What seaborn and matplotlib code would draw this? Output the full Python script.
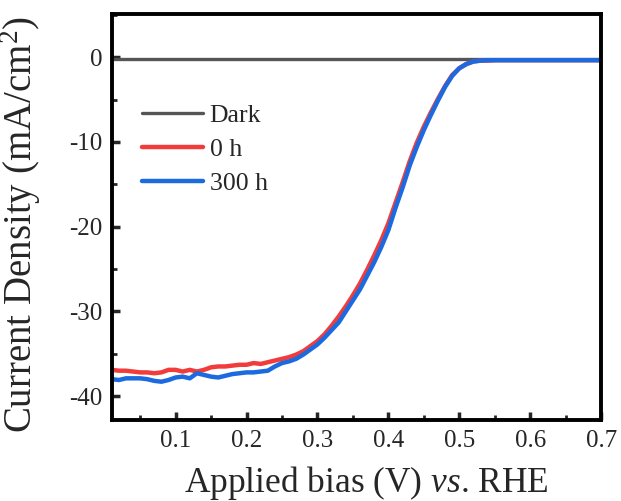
import matplotlib
matplotlib.use("Agg")
import matplotlib.pyplot as plt
import seaborn as sns
from matplotlib.ticker import MultipleLocator

# applied bias (V vs. RHE)
voltage = [0.01, 0.02, 0.03, 0.04, 0.05, 0.06, 0.07, 0.08, 0.09, 0.10,
           0.11, 0.12, 0.13, 0.14, 0.15, 0.16, 0.17, 0.18, 0.19, 0.20,
           0.21, 0.22, 0.23, 0.24, 0.25, 0.26, 0.27, 0.28, 0.29, 0.30,
           0.31, 0.32, 0.33, 0.34, 0.35, 0.36, 0.37, 0.38, 0.39, 0.40,
           0.41, 0.42, 0.43, 0.44, 0.45, 0.46, 0.47, 0.48, 0.49, 0.50,
           0.51, 0.52, 0.53, 0.54, 0.55, 0.56, 0.57, 0.58, 0.59, 0.60,
           0.61, 0.62, 0.63, 0.64, 0.65, 0.66, 0.67, 0.68, 0.69, 0.70]

j_0h = [-36.9, -37.0, -37.0, -37.1, -37.2, -37.2, -37.3, -37.2, -36.9, -36.9,
        -37.1, -36.9, -37.1, -36.9, -36.6, -36.5, -36.5, -36.4, -36.3, -36.3,
        -36.1, -36.2, -36.0, -35.8, -35.6, -35.4, -35.1, -34.7, -34.1, -33.5,
        -32.7, -31.7, -30.6, -29.4, -28.1, -26.7, -25.1, -23.4, -21.6, -19.6,
        -17.2, -14.8, -12.3, -10.1, -8.2, -6.5, -4.9, -3.4, -2.1, -1.3,
        -0.8, -0.5, -0.4, -0.4, -0.35, -0.35, -0.35, -0.35, -0.35, -0.35,
        -0.35, -0.35, -0.35, -0.35, -0.35, -0.35, -0.35, -0.35, -0.35, -0.35]

j_300h = [-38.0, -38.1, -37.9, -37.9, -37.9, -38.0, -38.2, -38.3, -38.1, -37.8,
          -37.7, -37.9, -37.3, -37.5, -37.7, -37.8, -37.6, -37.4, -37.3, -37.2,
          -37.2, -37.1, -37.0, -36.5, -36.1, -35.9, -35.6, -35.1, -34.5, -33.9,
          -33.1, -32.2, -31.3, -30.0, -28.7, -27.4, -25.8, -24.2, -22.4, -20.4,
          -17.8, -15.4, -12.8, -10.6, -8.6, -6.8, -5.1, -3.5, -2.2, -1.3,
          -0.8, -0.5, -0.4, -0.35, -0.35, -0.35, -0.35, -0.35, -0.35, -0.35,
          -0.35, -0.35, -0.35, -0.35, -0.35, -0.35, -0.35, -0.35, -0.35, -0.35]

dark_v = [0.01, 0.70]
dark_j = [-0.2, -0.2]

sns.set_style("ticks")
plt.rcParams["font.family"] = ["Liberation Serif", "DejaVu Serif"]
plt.rcParams["mathtext.fontset"] = "custom"
plt.rcParams["mathtext.rm"] = "Liberation Serif"
plt.rcParams["mathtext.it"] = "Liberation Serif:italic"
plt.rcParams["axes.unicode_minus"] = False

fig = plt.figure(figsize=(6.21, 5.01), dpi=100)
ax = fig.add_axes([0.180, 0.162, 0.788, 0.810])

sns.lineplot(x=dark_v, y=dark_j, ax=ax, color="#555555", linewidth=2.4, label="Dark")
sns.lineplot(x=voltage, y=j_0h, ax=ax, color="#f23c3c", linewidth=3.2, label="0 h")
sns.lineplot(x=voltage, y=j_300h, ax=ax, color="#1c6ae0", linewidth=3.2, label="300 h")

ax.set_xlim(0.01, 0.70)
ax.set_ylim(-42.8, 5.1)
ax.xaxis.set_major_locator(MultipleLocator(0.1))
ax.xaxis.set_minor_locator(MultipleLocator(0.05))
ax.yaxis.set_major_locator(MultipleLocator(10))
ax.yaxis.set_minor_locator(MultipleLocator(5))
ax.set_xticks([0.1, 0.2, 0.3, 0.4, 0.5, 0.6, 0.7])
ax.set_xticklabels(["0.1", "0.2", "0.3", "0.4", "0.5", "0.6", "0.7"])

ax.tick_params(which="major", direction="in", length=6, width=2.5, labelsize=18, pad=7)
ax.tick_params(which="minor", direction="in", length=3.5, width=2)
for s in ax.spines.values():
    s.set_linewidth(2.8)
    s.set_color("black")

ax.set_xlabel(r"Applied bias (V) $\mathit{vs}$. RHE", fontsize=25.5)
ax.set_ylabel(r"Current Density (mA/cm$^2$)", fontsize=28)
ax.xaxis.set_label_coords(0.521, -0.11)
ax.yaxis.set_label_coords(-0.14, 0.48)

ax.legend(loc="upper left", bbox_to_anchor=(0.061, 0.778), frameon=False, fontsize=18.5,
          handlelength=2.4, handletextpad=0.25, labelspacing=0.42,
          borderpad=0, borderaxespad=0)

fig.savefig("out.png", dpi=100)
